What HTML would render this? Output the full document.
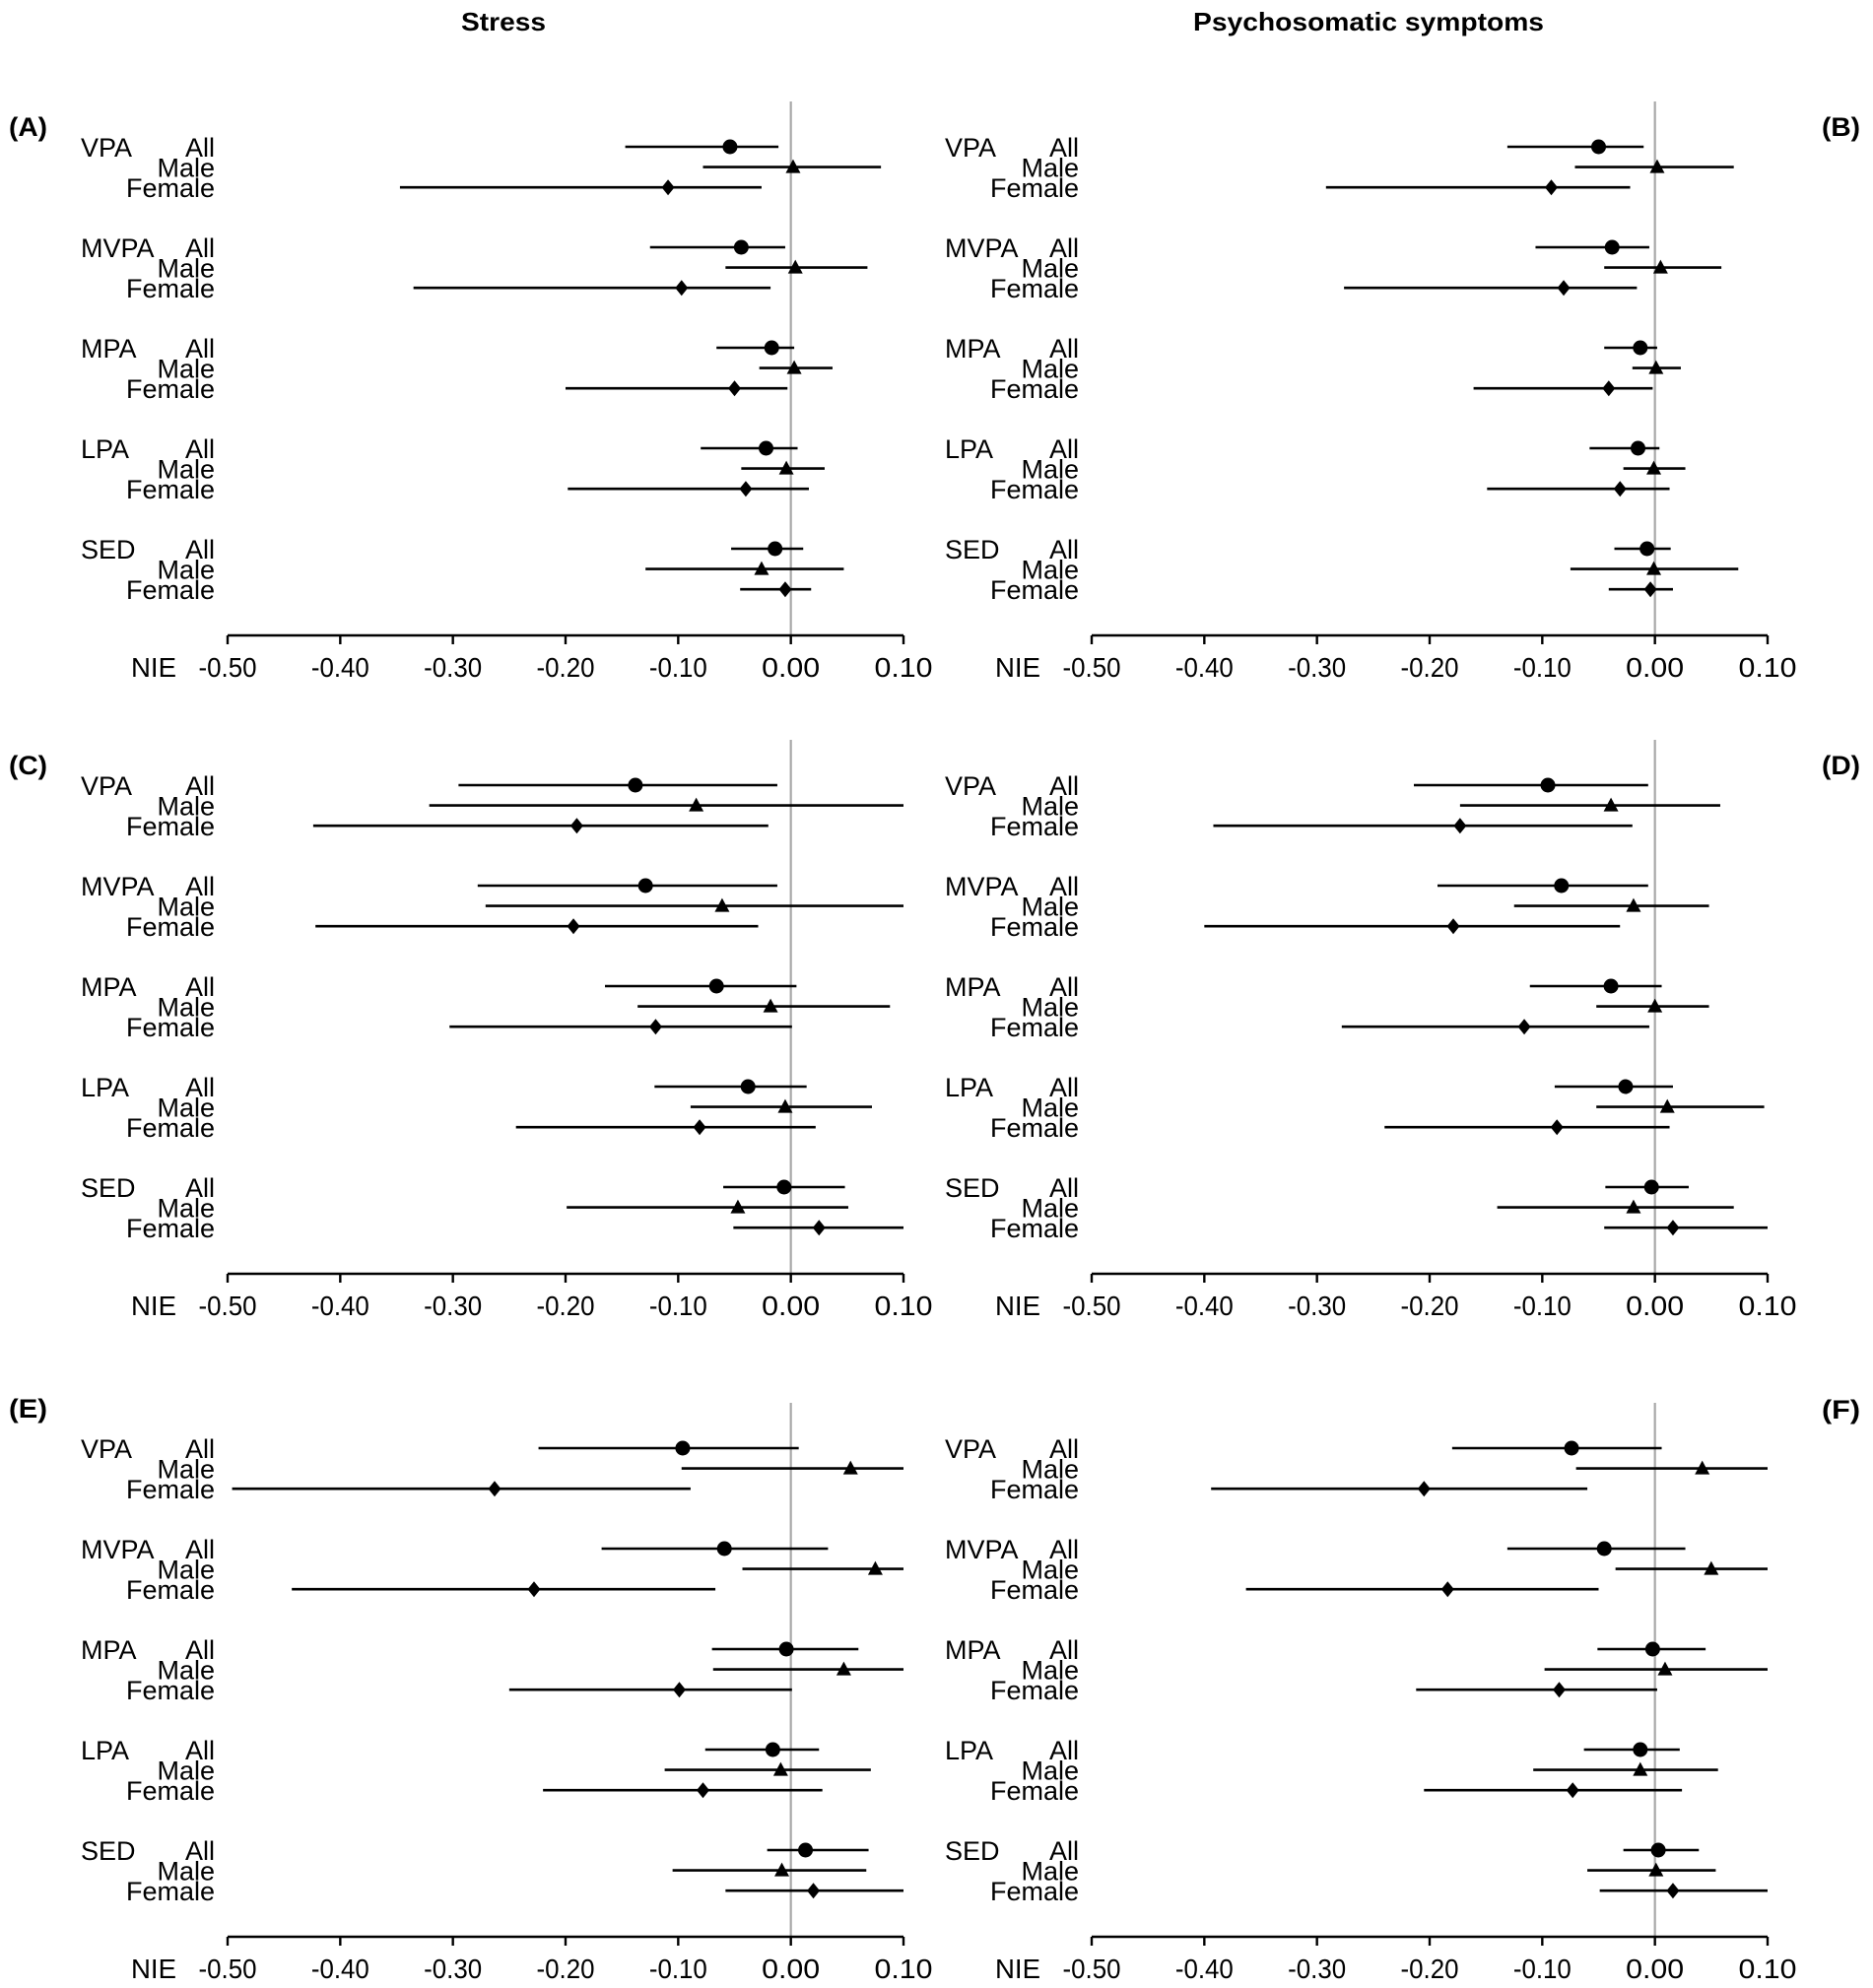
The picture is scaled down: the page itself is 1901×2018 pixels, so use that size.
<!DOCTYPE html>
<html><head><meta charset="utf-8"><style>
html,body{margin:0;padding:0;background:#fff;}
svg{display:block;font-family:"Liberation Sans",Arial,sans-serif;}
</style></head><body>
<svg id="fig" width="1901" height="2018" viewBox="0 0 1901 2018" xmlns="http://www.w3.org/2000/svg">
<text x="511" y="31" font-size="26" font-weight="bold" text-anchor="middle" textLength="86" lengthAdjust="spacingAndGlyphs">Stress</text>
<text x="1389" y="31" font-size="26" font-weight="bold" text-anchor="middle" textLength="356" lengthAdjust="spacingAndGlyphs">Psychosomatic symptoms</text>
</svg>
<script>
const groups = ["VPA","MVPA","MPA","LPA","SED"];
const subgroups = ["All","Male","Female"];
const tickValues = [-0.5,-0.4,-0.3,-0.2,-0.1,0,0.1];
const tickLabels = ["-0.50","-0.40","-0.30","-0.20","-0.10","0.00","0.10"];
const panelNames = ["A","B","C","D","E","F"];
// order: VPA All/Male/Female, MVPA ..., MPA ..., LPA ..., SED ...
const estA = [-0.054,0.002,-0.109,-0.044,0.004,-0.097,-0.017,0.003,-0.050,-0.022,-0.004,-0.040,-0.014,-0.026,-0.005];
const loA  = [-0.147,-0.078,-0.347,-0.125,-0.058,-0.335,-0.066,-0.028,-0.200,-0.080,-0.044,-0.198,-0.053,-0.129,-0.045];
const hiA  = [-0.011,0.080,-0.026,-0.005,0.068,-0.018,0.003,0.037,-0.003,0.006,0.030,0.016,0.011,0.047,0.018];
const estB = [-0.050,0.002,-0.092,-0.038,0.005,-0.081,-0.013,0.001,-0.041,-0.015,-0.001,-0.031,-0.007,-0.001,-0.004];
const loB  = [-0.131,-0.071,-0.292,-0.106,-0.045,-0.276,-0.045,-0.020,-0.161,-0.058,-0.028,-0.149,-0.036,-0.075,-0.041];
const hiB  = [-0.010,0.070,-0.022,-0.005,0.059,-0.016,0.002,0.023,-0.002,0.004,0.027,0.013,0.014,0.074,0.016];
const estC = [-0.138,-0.084,-0.190,-0.129,-0.061,-0.193,-0.066,-0.018,-0.120,-0.038,-0.005,-0.081,-0.006,-0.047,0.025];
const loC  = [-0.295,-0.321,-0.424,-0.278,-0.271,-0.422,-0.165,-0.136,-0.303,-0.121,-0.089,-0.244,-0.060,-0.199,-0.051];
const hiC  = [-0.012,0.100,-0.020,-0.012,0.100,-0.029,0.005,0.088,0.001,0.014,0.072,0.022,0.048,0.051,0.100];
const estD = [-0.095,-0.039,-0.173,-0.083,-0.019,-0.179,-0.039,0.000,-0.116,-0.026,0.011,-0.087,-0.003,-0.019,0.016];
const loD  = [-0.214,-0.173,-0.392,-0.193,-0.125,-0.400,-0.111,-0.052,-0.278,-0.089,-0.052,-0.240,-0.044,-0.140,-0.045];
const hiD  = [-0.006,0.058,-0.020,-0.006,0.048,-0.031,0.006,0.048,-0.005,0.016,0.097,0.013,0.030,0.070,0.100];
const estE = [-0.096,0.053,-0.263,-0.059,0.075,-0.228,-0.004,0.047,-0.099,-0.016,-0.009,-0.078,0.013,-0.008,0.020];
const loE  = [-0.224,-0.097,-0.496,-0.168,-0.043,-0.443,-0.070,-0.069,-0.250,-0.076,-0.112,-0.220,-0.021,-0.105,-0.058];
const hiE  = [0.007,0.100,-0.089,0.033,0.100,-0.067,0.060,0.100,0.001,0.025,0.071,0.028,0.069,0.067,0.100];
const estF = [-0.074,0.042,-0.205,-0.045,0.050,-0.184,-0.002,0.009,-0.085,-0.013,-0.013,-0.073,0.003,0.001,0.016];
const loF  = [-0.180,-0.070,-0.394,-0.131,-0.035,-0.363,-0.051,-0.098,-0.212,-0.063,-0.108,-0.205,-0.028,-0.060,-0.049];
const hiF  = [0.006,0.100,-0.060,0.027,0.100,-0.050,0.045,0.100,0.002,0.022,0.056,0.024,0.039,0.054,0.100];

const ests=[estA,estB,estC,estD,estE,estF], los=[loA,loB,loC,loD,loE,loF], his=[hiA,hiB,hiC,hiD,hiE,hiF];
const NS="http://www.w3.org/2000/svg";
const svg=document.getElementById('fig');
function mk(tag,attrs,parent){const e=document.createElementNS(NS,tag);for(const k in attrs)e.setAttribute(k,attrs[k]);(parent||svg).appendChild(e);return e;}
const topY=[149,149,797,797,1470,1470];
const labelY=[138,138,786,786,1439,1440];
const xMin=-0.5,xMax=0.1;
for(let p=0;p<6;p++){
  const right=p%2===1, off=right?877:0;
  const x0=231+off, x1=917+off;
  const xs=v=>x0+(v-xMin)/(xMax-xMin)*(x1-x0);
  const ys=i=>topY[p]+Math.floor(i/3)*102+(i%3)*20.6;
  const axisY=topY[p]+496;
  const g=mk('g',{});
  
  
  const pl=mk('text',{x:right?1888:9,y:labelY[p],'font-size':27,'font-weight':'bold','text-anchor':right?'end':'start',textLength:39,lengthAdjust:'spacingAndGlyphs'},g);
  pl.textContent='('+panelNames[p]+')';
  
  
  const zl=mk('line',{x1:xs(0),x2:xs(0),y1:topY[p]-46,y2:axisY,stroke:'#a8a8a8','stroke-width':2.2},g);
  
  
  const ax=mk('line',{x1:x0,x2:x1,y1:axisY,y2:axisY,stroke:'#000','stroke-width':2.6},g);
  
  
  tickValues.forEach((v,k)=>{
    const tk=mk('line',{x1:xs(v),x2:xs(v),y1:axisY,y2:axisY+9,stroke:'#000','stroke-width':2.4},g);
    
    
    const tl=mk('text',{x:xs(v),y:axisY+42,'font-size':28,'text-anchor':'middle',textLength:59,lengthAdjust:'spacingAndGlyphs'},g);
    tl.textContent=tickLabels[k];
    
    
  });
  const nie=mk('text',{x:133+off,y:axisY+42,'font-size':28,textLength:46,lengthAdjust:'spacingAndGlyphs'},g);
  nie.textContent='NIE';
  
  
  groups.forEach((gn,gi)=>{
    const t=mk('text',{x:82+off,y:ys(gi*3)+10,'font-size':27},g);
    t.textContent=gn;
    
    
  });
  for(let i=0;i<15;i++){
    const y=ys(i), s=i%3;
    const sl=mk('text',{x:218+off,y:y+10,'font-size':27,'text-anchor':'end'},g);
    sl.textContent=subgroups[s];
    
    
    const ci=mk('line',{x1:xs(los[p][i]),x2:xs(Math.min(his[p][i],xMax)),y1:y,y2:y,stroke:'#000','stroke-width':2.6},g);
    
    
    const cx=xs(ests[p][i]);
    let m;
    if(s===0){m=mk('circle',{cx:cx,cy:y,r:7.5,fill:'#000'},g);}
    else if(s===1){m=mk('polygon',{points:`${cx-7.5},${y+6} ${cx+7.5},${y+6} ${cx},${y-8}`,fill:'#000'},g);}
    else {m=mk('polygon',{points:`${cx},${y-8} ${cx+6.5},${y} ${cx},${y+8} ${cx-6.5},${y}`,fill:'#000'},g);}
    
    
  }
}
</script>
</body></html>
